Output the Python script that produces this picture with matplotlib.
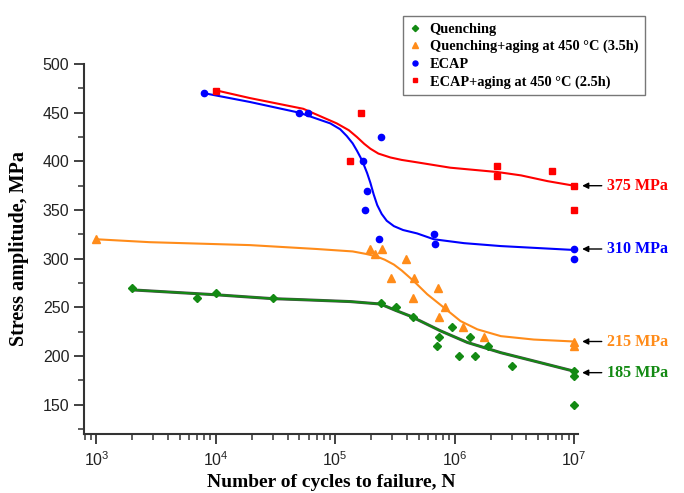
import numpy as np
import matplotlib
matplotlib.use("Agg")
import matplotlib.pyplot as plt
from matplotlib.ticker import LogLocator, MultipleLocator, NullFormatter

plt.rcParams['font.family'] = ['Liberation Sans', 'DejaVu Sans']
plt.rcParams['mathtext.fontset'] = 'custom'
plt.rcParams['mathtext.rm'] = 'Liberation Sans'

# measured points (cycles, stress MPa)
q_n = [2e3, 7e3, 1e4, 3e4, 2.44e5, 3.24e5, 4.44e5, 9.6e5, 7.4e5, 1.34e6, 7.1e5, 1.92e6,
       1.08e6, 1.47e6, 3.03e6, 1e7, 1e7, 1e7]
q_s = [270, 260, 265, 260, 255, 250, 240, 230, 220, 220, 210, 210, 200, 200, 190, 185, 180, 150]

qa_n = [1e3, 1.97e5, 2.45e5, 2.14e5, 3.95e5, 2.94e5, 4.6e5, 7.2e5, 4.44e5, 8.3e5, 7.4e5,
        1.17e6, 1.75e6, 1e7, 1e7]
qa_s = [320, 310, 310, 305, 300, 280, 280, 270, 260, 250, 240, 230, 220, 215, 210]

e_n = [8e3, 5e4, 5.9e4, 2.44e5, 1.71e5, 1.86e5, 1.76e5, 2.34e5, 6.67e5, 6.84e5, 1e7, 1e7]
e_s = [470, 450, 450, 425, 400, 370, 350, 320, 325, 315, 310, 300]

ea_n = [1e4, 1.63e5, 1.32e5, 2.25e6, 2.25e6, 6.5e6, 1e7, 1e7]
ea_s = [472, 450, 400, 395, 385, 390, 375, 350]

# fitted curves
q_fit_n = [2e3, 1e4, 3e4, 5.1e4, 1.34e5, 2.39e5, 3.2e5, 4.27e5, 7.6e5, 1.28e6, 2.44e6, 4.6e6, 1e7]
q_fit_s = [268, 263, 259, 258, 256, 253.5, 247, 241, 226, 214, 203.5, 195, 184.5]

qa_fit_n = [1e3, 2.8e3, 1.93e4, 7e4, 1.4e5, 1.8e5, 2.2e5, 2.6e5, 3.1e5, 3.6e5, 4.55e5, 5.9e5,
            8.1e5, 1.12e6, 1.55e6, 2.44e6, 4.6e6, 1e7]
qa_fit_s = [320, 317, 314, 310, 307.5, 305, 302.5, 299, 294, 288, 277, 263.5, 250, 236,
            227.5, 220.5, 217, 215]

e_fit_n = [8e3, 1.93e4, 5e4, 9.1e4, 1.1e5, 1.25e5, 1.4e5, 1.52e5, 1.63e5, 1.73e5, 1.85e5,
           1.97e5, 2.1e5, 2.25e5, 2.45e5, 2.7e5, 3.1e5, 3.7e5, 4.85e5, 6.7e5, 1.2e6, 2.44e6, 1e7]
e_fit_s = [470, 461, 450, 439, 433, 426, 418.5, 411, 404, 397, 388, 378, 366, 355, 346,
           339, 333.5, 329.5, 326, 320, 316, 313, 309]

ea_fit_n = [1e4, 1.93e4, 5.4e4, 1.03e5, 1.3e5, 1.52e5, 1.75e5, 1.97e5, 2.3e5, 2.9e5, 3.6e5,
            4.85e5, 9.2e5, 2.3e6, 3.6e6, 6e6, 1e7]
ea_fit_s = [473, 465, 454, 439, 432, 425, 418, 413, 408, 404, 401.5, 399, 393.5, 389,
            385.6, 379.7, 375]

labels = ['Quenching', 'Quenching+aging at 450 \u00b0C (3.5h)', 'ECAP',
          'ECAP+aging at 450 \u00b0C (2.5h)']
limits = [375, 310, 215, 185]
limit_y = [375, 310, 215, 183]

green = '#138a13'
orange = '#ff8c1a'
blue = '#0000ff'
red = '#ff0000'

fig = plt.figure(figsize=(6.84, 4.93), dpi=100)
ax = fig.add_axes([84 / 684, 1 - 434 / 493, (578 - 84) / 684, (434 - 64) / 493])

ax.plot(q_fit_n, q_fit_s, color='black', lw=2.2, alpha=0.7, solid_joinstyle='round')
ax.plot(q_fit_n, q_fit_s, color=green, lw=1.4, solid_joinstyle='round')
ax.plot(qa_fit_n, qa_fit_s, color=orange, lw=1.5, solid_joinstyle='round')
ax.plot(e_fit_n, e_fit_s, color=blue, lw=1.5, solid_joinstyle='round')
ax.plot(ea_fit_n, ea_fit_s, color=red, lw=1.5, solid_joinstyle='round')

ax.plot(q_n, q_s, 'D', color=green, ms=4, ls='none', label=labels[0])
ax.plot(qa_n, qa_s, '^', color=orange, ms=5.5, ls='none', label=labels[1])
ax.plot(e_n, e_s, 'o', color=blue, ms=4.5, ls='none', label=labels[2])
ax.plot(ea_n, ea_s, 's', color=red, ms=4, ls='none', label=labels[3])

ax.set_xscale('log')
ax.set_xlim(787, 1.08e7)
ax.set_ylim(120, 500)

for side in ['top', 'right']:
    ax.spines[side].set_visible(False)
for side in ['left', 'bottom']:
    ax.spines[side].set_linewidth(1.5)
    ax.spines[side].set_color('#333333')

ax.yaxis.set_minor_locator(MultipleLocator(25))
ax.set_yticks([150, 200, 250, 300, 350, 400, 450, 500])
ax.xaxis.set_major_locator(LogLocator(base=10, numticks=10))
ax.xaxis.set_minor_locator(LogLocator(base=10, subs=np.arange(2, 10), numticks=20))
ax.xaxis.set_minor_formatter(NullFormatter())
ax.tick_params(which='major', direction='out', length=7, width=1.3, color='#333333',
               labelsize=11.5, labelcolor='#222222')
ax.tick_params(which='minor', direction='out', length=4, width=1.1, color='#333333')
ax.tick_params(axis='x', which='major', pad=5)

ax.set_xlabel('Number of cycles to failure, N', fontfamily='Liberation Serif',
              fontweight='bold', fontsize=14, labelpad=3)
ax.set_ylabel('Stress amplitude, MPa', fontfamily='Liberation Serif',
              fontweight='bold', fontsize=14.5, labelpad=10)

colors = [red, blue, orange, green]
for v, yv, c in zip(limits, limit_y, colors):
    ax.annotate(f'{v} MPa', xy=(1.17e7, yv), xytext=(1.9e7, yv),
                color=c, fontfamily='Liberation Serif', fontweight='bold', fontsize=11.5,
                va='center', ha='left', annotation_clip=False,
                arrowprops=dict(arrowstyle='-|>', color='black', lw=1.0,
                                mutation_scale=9, shrinkA=2, shrinkB=0))

leg = fig.legend(loc='upper left', bbox_to_anchor=(403 / 684, 1 - 16 / 493),
                 prop={'family': 'Liberation Serif', 'weight': 'bold', 'size': 10.4},
                 frameon=True, fancybox=False, edgecolor='#555555', handlelength=0.8,
                 handletextpad=0.6, borderpad=0.45, labelspacing=0.3, markerscale=0.8,
                 borderaxespad=0)
leg.get_frame().set_linewidth(1.0)

fig.savefig('out.png', dpi=100)
